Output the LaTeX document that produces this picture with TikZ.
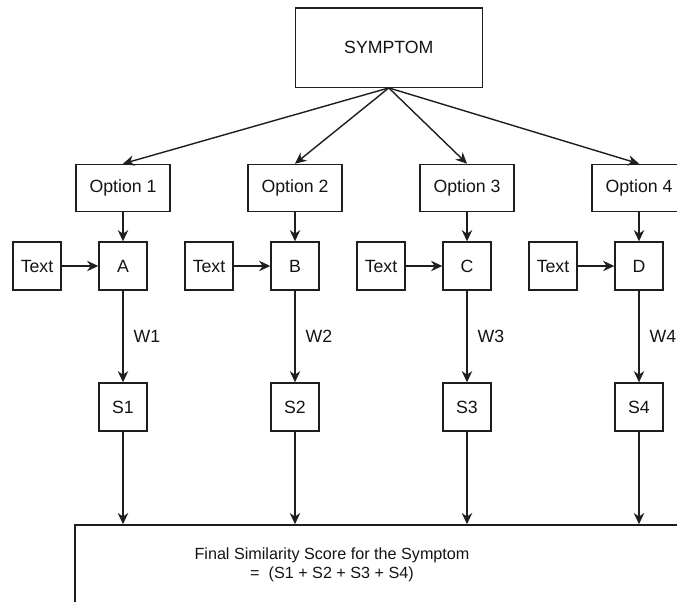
\documentclass[tikz,border=0pt]{standalone}
\usepackage{fontspec}
\setmainfont{Liberation Sans}
\usetikzlibrary{arrows.meta, positioning}
\definecolor{boxline}{RGB}{30, 30, 30}
\definecolor{labeltext}{RGB}{20, 20, 20}

\begin{document}
\begin{tikzpicture}[
  box/.style={draw=boxline, fill=white, line width=1pt, minimum width=1.2cm, minimum height=1.2cm, text centered, text=labeltext, font=\fontsize{12.6}{14}\selectfont},
  optbox/.style={box, minimum width=2.35cm, minimum height=1.18cm},
  flow/.style={draw=boxline, line width=1pt, -{Stealth[length=2.8mm, width=2.6mm, inset=0.9mm]}},
  weight/.style={font=\fontsize{12.6}{14}\selectfont, text=labeltext, midway, right, inner sep=2.5mm}
]
  \useasboundingbox (0, 0) rectangle (16.925, -15.025);

  % Top node
  \node[box, minimum width=4.68cm, minimum height=1.98cm] (sym) at (9.72, -1.19) {SYMPTOM};

  % Options
  \node[optbox] (opt1) at (3.075, -4.7) {Option 1};
  \node[optbox] (opt2) at (7.375, -4.7) {Option 2};
  \node[optbox] (opt3) at (11.675, -4.7) {Option 3};
  \node[optbox] (opt4) at (15.975, -4.7) {Option 4};

  % Inputs
  \node[box] (txt1) at (0.925, -6.65) {Text};
  \node[box] (txt2) at (5.225, -6.65) {Text};
  \node[box] (txt3) at (9.525, -6.65) {Text};
  \node[box] (txt4) at (13.825, -6.65) {Text};
  \node[box] (a) at (3.075, -6.65) {A};
  \node[box] (b) at (7.375, -6.65) {B};
  \node[box] (c) at (11.675, -6.65) {C};
  \node[box] (d) at (15.975, -6.65) {D};

  % Scores
  \node[box] (s1) at (3.075, -10.175) {S1};
  \node[box] (s2) at (7.375, -10.175) {S2};
  \node[box] (s3) at (11.675, -10.175) {S3};
  \node[box] (s4) at (15.975, -10.175) {S4};

  % Final score box
  \node[box, minimum width=16.125cm, minimum height=2.875cm] (final) at (9.94, -14.56) {};
  \node[font=\fontsize{11.5}{14.2}\selectfont, text=labeltext, align=center] (finaltext) at (8.3, -14.12) {Final Similarity Score for the Symptom\\=\ \ (S1 + S2 + S3 + S4)};

  % Connections
  \draw[flow] (sym.south) -- (opt1.north);
  \draw[flow] (sym.south) -- (opt2.north);
  \draw[flow] (sym.south) -- (opt3.north);
  \draw[flow] (sym.south) -- (opt4.north);
  \draw[flow] (opt1) -- (a);
  \draw[flow] (opt2) -- (b);
  \draw[flow] (opt3) -- (c);
  \draw[flow] (opt4) -- (d);
  \draw[flow] (txt1) -- (a);
  \draw[flow] (txt2) -- (b);
  \draw[flow] (txt3) -- (c);
  \draw[flow] (txt4) -- (d);
  \draw[flow] (a) -- node[weight] {W1} (s1);
  \draw[flow] (b) -- node[weight] {W2} (s2);
  \draw[flow] (c) -- node[weight] {W3} (s3);
  \draw[flow] (d) -- node[weight] {W4} (s4);
  \draw[flow] (s1) -- (s1 |- final.north);
  \draw[flow] (s2) -- (s2 |- final.north);
  \draw[flow] (s3) -- (s3 |- final.north);
  \draw[flow] (s4) -- (s4 |- final.north);
\end{tikzpicture}
\end{document}
